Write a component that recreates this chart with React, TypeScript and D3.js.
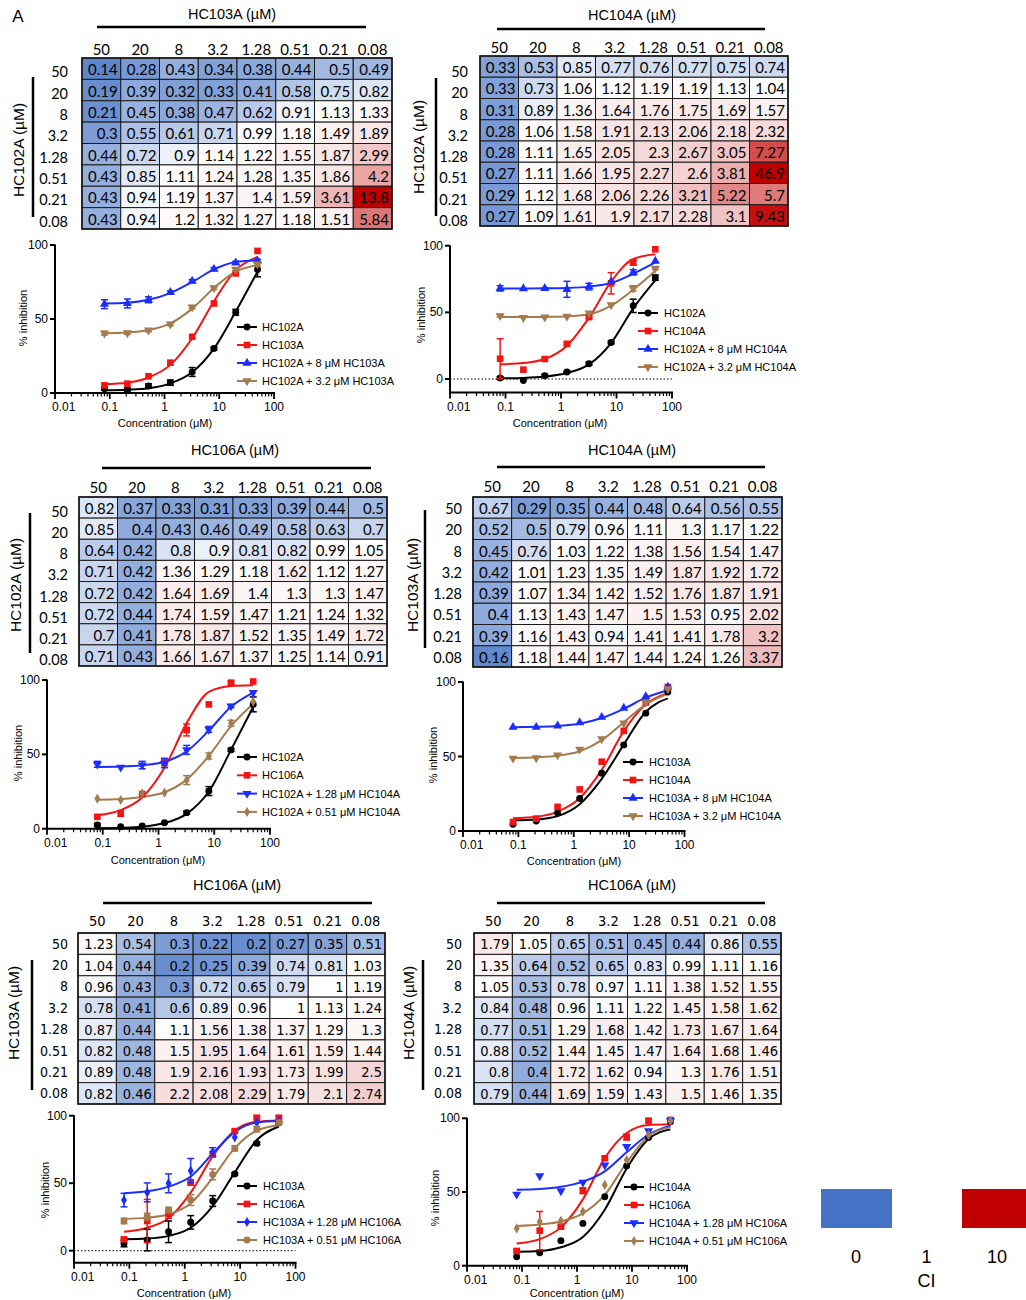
import React from "react";
import * as d3 from "d3";

// concentrations (µM) used for every dose-response curve
const conc = [0.08, 0.21, 0.51, 1.28, 3.2, 8, 20, 50];
// heatmap row / column labels
const doseLabels = ["50", "20", "8", "3.2", "1.28", "0.51", "0.21", "0.08"];
const xTickLabels = [0.01, 0.1, 1, 10, 100];
const yTickLabels = [0, 50, 100];

// combination index heatmaps (rows = y drug, cols = x drug)
const hm1 = [
  [0.14, 0.28, 0.43, 0.34, 0.38, 0.44, 0.5, 0.49],
  [0.19, 0.39, 0.32, 0.33, 0.41, 0.58, 0.75, 0.82],
  [0.21, 0.45, 0.38, 0.47, 0.62, 0.91, 1.13, 1.33],
  [0.3, 0.55, 0.61, 0.71, 0.99, 1.18, 1.49, 1.89],
  [0.44, 0.72, 0.9, 1.14, 1.22, 1.55, 1.87, 2.99],
  [0.43, 0.85, 1.11, 1.24, 1.28, 1.35, 1.86, 4.2],
  [0.43, 0.94, 1.19, 1.37, 1.4, 1.59, 3.61, 13.8],
  [0.43, 0.94, 1.2, 1.32, 1.27, 1.18, 1.51, 5.84],
];
const hm2 = [
  [0.33, 0.53, 0.85, 0.77, 0.76, 0.77, 0.75, 0.74],
  [0.33, 0.73, 1.06, 1.12, 1.19, 1.19, 1.13, 1.04],
  [0.31, 0.89, 1.36, 1.64, 1.76, 1.75, 1.69, 1.57],
  [0.28, 1.06, 1.58, 1.91, 2.13, 2.06, 2.18, 2.32],
  [0.28, 1.11, 1.65, 2.05, 2.3, 2.67, 3.05, 7.27],
  [0.27, 1.11, 1.66, 1.95, 2.27, 2.6, 3.81, 46.9],
  [0.29, 1.12, 1.68, 2.06, 2.26, 3.21, 5.22, 5.7],
  [0.27, 1.09, 1.61, 1.9, 2.17, 2.28, 3.1, 9.43],
];
const hm3 = [
  [0.82, 0.37, 0.33, 0.31, 0.33, 0.39, 0.44, 0.5],
  [0.85, 0.4, 0.43, 0.46, 0.49, 0.58, 0.63, 0.7],
  [0.64, 0.42, 0.8, 0.9, 0.81, 0.82, 0.99, 1.05],
  [0.71, 0.42, 1.36, 1.29, 1.18, 1.62, 1.12, 1.27],
  [0.72, 0.42, 1.64, 1.69, 1.4, 1.3, 1.3, 1.47],
  [0.72, 0.44, 1.74, 1.59, 1.47, 1.21, 1.24, 1.32],
  [0.7, 0.41, 1.78, 1.87, 1.52, 1.35, 1.49, 1.72],
  [0.71, 0.43, 1.66, 1.67, 1.37, 1.25, 1.14, 0.91],
];
const hm4 = [
  [0.67, 0.29, 0.35, 0.44, 0.48, 0.64, 0.56, 0.55],
  [0.52, 0.5, 0.79, 0.96, 1.11, 1.3, 1.17, 1.22],
  [0.45, 0.76, 1.03, 1.22, 1.38, 1.56, 1.54, 1.47],
  [0.42, 1.01, 1.23, 1.35, 1.49, 1.87, 1.92, 1.72],
  [0.39, 1.07, 1.34, 1.42, 1.52, 1.76, 1.87, 1.91],
  [0.4, 1.13, 1.43, 1.47, 1.5, 1.53, 0.95, 2.02],
  [0.39, 1.16, 1.43, 0.94, 1.41, 1.41, 1.78, 3.2],
  [0.16, 1.18, 1.44, 1.47, 1.44, 1.24, 1.26, 3.37],
];
const hm5 = [
  [1.23, 0.54, 0.3, 0.22, 0.2, 0.27, 0.35, 0.51],
  [1.04, 0.44, 0.2, 0.25, 0.39, 0.74, 0.81, 1.03],
  [0.96, 0.43, 0.3, 0.72, 0.65, 0.79, 1, 1.19],
  [0.78, 0.41, 0.6, 0.89, 0.96, 1, 1.13, 1.24],
  [0.87, 0.44, 1.1, 1.56, 1.38, 1.37, 1.29, 1.3],
  [0.82, 0.48, 1.5, 1.95, 1.64, 1.61, 1.59, 1.44],
  [0.89, 0.48, 1.9, 2.16, 1.93, 1.73, 1.99, 2.5],
  [0.82, 0.46, 2.2, 2.08, 2.29, 1.79, 2.1, 2.74],
];
const hm6 = [
  [1.79, 1.05, 0.65, 0.51, 0.45, 0.44, 0.86, 0.55],
  [1.35, 0.64, 0.52, 0.65, 0.83, 0.99, 1.11, 1.16],
  [1.05, 0.53, 0.78, 0.97, 1.11, 1.38, 1.52, 1.55],
  [0.84, 0.48, 0.96, 1.11, 1.22, 1.45, 1.58, 1.62],
  [0.77, 0.51, 1.29, 1.68, 1.42, 1.73, 1.67, 1.64],
  [0.88, 0.52, 1.44, 1.45, 1.47, 1.64, 1.68, 1.46],
  [0.8, 0.4, 1.72, 1.62, 0.94, 1.3, 1.76, 1.51],
  [0.79, 0.44, 1.69, 1.59, 1.43, 1.5, 1.46, 1.35],
];

// % inhibition: points, error bars, fitted curve read at each concentration
const p1Black = [2.9, 2.3, 4.7, 7, 14.2, 30, 54.5, 83.5];
const p1BlackErr = [1, 1, 1.5, 1.8, 3, 1, 2, 5];
const p1BlackFit = [1.8, 2.2, 3.2, 6.5, 14, 30, 55, 82];
const p1Red = [5.2, 6.3, 11.3, 20.5, 38, 60.5, 80.8, 96];
const p1RedErr = [0, 0, 0, 0, 0, 0, 0, 0];
const p1RedFit = [6, 7, 10.5, 19, 37, 62, 83, 92];
const p1Blue = [60, 60.5, 63, 68, 75.6, 83.7, 88, 89.4];
const p1BlueErr = [3, 3, 2, 1, 1, 1, 1, 1];
const p1BlueFit = [60.5, 61, 63, 67.5, 75, 83.5, 88.5, 89.5];
const p1Brown = [40.4, 40.6, 42.4, 46.5, 58, 71, 83.5, 87];
const p1BrownErr = [1.2, 1, 1, 1, 1, 1, 1, 1];
const p1BrownFit = [40.3, 40.8, 42.5, 47, 57, 71, 82, 86.5];

const p2Black = [0.7, -1.2, 2.5, 5.2, 11.5, 27.4, 54.9, 76];
const p2BlackErr = [1, 0, 1, 0.5, 1, 1, 5, 2];
const p2BlackFit = [0.5, 0.8, 1.8, 4.5, 11, 27, 53, 74];
const p2Red = [15.2, 7, 15, 26.4, 46.4, 71.8, 87.3, 97.3];
const p2RedErr = [15, 0, 1, 1, 1, 8, 2, 0];
const p2RedFit = [11, 12, 15, 25, 46, 73, 90, 93.5];
const p2Blue = [68, 67.8, 68, 67.3, 69.3, 73, 80, 88.5];
const p2BlueErr = [2, 0, 0.5, 6, 2.5, 0, 2, 0];
const p2BlueFit = [67.8, 67.9, 68, 68.3, 69.3, 72, 79, 87.5];
const p2Brown = [47.4, 46, 46.4, 46.9, 49.4, 55.6, 68, 83];
const p2BrownErr = [1, 0, 0, 0, 0, 0, 2, 1];
const p2BrownFit = [46.5, 46.5, 46.6, 46.9, 48.5, 55, 67, 81];

const p3Black = [2.5, 1.3, 1.8, 4, 10.8, 25.3, 53, 83.6];
const p3BlackErr = [1, 0, 0, 0.5, 1, 3, 1, 5];
const p3BlackFit = [0.3, 0.6, 1.3, 3.8, 10, 25, 53, 82];
const p3Red = [8, 10.3, 23.3, 44.4, 66.4, 83.6, 98.2, 99];
const p3RedErr = [0, 2, 0, 3, 4, 0, 1, 0];
const p3RedFit = [9, 12.5, 21, 41, 71, 92, 96, 96.5];
const p3Blue = [43.3, 41.3, 42.8, 44, 53, 66.8, 82.5, 91.5];
const p3BlueErr = [2, 0, 2.5, 3, 3, 2, 1, 0];
const p3BlueFit = [41.5, 41.8, 42.7, 45, 52, 66, 82, 91.5];
const p3Brown = [20.2, 19.3, 23.8, 24.2, 32.7, 48.9, 70.9, 85.4];
const p3BrownErr = [0, 0, 0, 0, 3, 2, 2, 0];
const p3BrownFit = [19.5, 20, 21.3, 24.5, 33, 49, 69, 84];

const p4Black = [4.5, 6.7, 12.1, 21.8, 38.7, 57.8, 79.1, 93.3];
const p4BlackErr = [0, 0, 0, 0, 0, 0, 0, 0];
const p4BlackFit = [7, 7.7, 10, 18, 35, 58, 80, 89];
const p4Red = [6, 8.3, 16.2, 27.9, 46.5, 67.2, 86.3, 96.6];
const p4RedErr = [0, 0, 0, 0, 0, 0, 0, 0];
const p4RedFit = [8.5, 9.5, 13, 22, 41, 67, 85, 92.5];
const p4Blue = [69.7, 69.7, 70.6, 72.8, 76.4, 82.5, 90.3, 96.6];
const p4BlueErr = [0, 0, 0, 0, 0, 0, 0, 0];
const p4BlueFit = [69.6, 69.9, 70.5, 72, 75.8, 82, 89.5, 94.5];
const p4Brown = [48.8, 49, 51, 54.8, 61.8, 72.4, 86.3, 95.3];
const p4BrownErr = [0, 0, 0, 0, 0, 0, 0, 0];
const p4BrownFit = [49, 49.5, 50.5, 53.5, 61, 73, 85, 92];

const p5Black = [5.4, 7.9, 14, 21, 36.8, 56.8, 79.5, 94.8];
const p5BlackErr = [2.5, 8, 8, 5, 4, 1, 1, 1];
const p5BlackFit = [8.5, 9, 11, 17, 33, 58, 82, 92];
const p5Red = [8.4, 22, 27, 50.6, 71.4, 88.6, 98.5, 98.5];
const p5RedErr = [1, 16, 3, 2, 2, 1, 1, 1];
const p5RedFit = [14, 17, 24, 43, 70, 89, 95.5, 96.5];
const p5Blue = [37.5, 43.2, 49.9, 59.3, 73.3, 84, 95, 96];
const p5BlueErr = [5, 7, 7, 9, 3, 0, 0, 0];
const p5BlueFit = [42.5, 44, 47.5, 55, 72, 88, 95, 96];
const p5Brown = [22, 25.2, 30.1, 37.5, 56.5, 75.8, 90.1, 95];
const p5BrownErr = [2, 2.5, 2, 4, 4, 2, 2, 0];
const p5BrownFit = [23.5, 24.5, 27, 35, 54, 76, 89, 93];

const p6Black = [6.1, 8.8, 17, 28.7, 46.8, 67.6, 86.9, 97.7];
const p6BlackErr = [0, 0, 0, 0, 0, 0, 0, 0];
const p6BlackFit = [9.5, 10, 12.5, 19.5, 38, 66, 86, 92.5];
const p6Red = [10, 23.8, 26.5, 50.9, 72.9, 87.3, 98.4, 98.9];
const p6RedErr = [1, 13, 1, 2, 1, 2, 1, 0];
const p6RedFit = [15, 18, 26, 45, 73, 90, 95.5, 96];
const p6Blue = [48.4, 60.9, 50.7, 56.6, 68.3, 80.8, 91.4, 98.4];
const p6BlueErr = [0, 0, 0, 0, 0, 0, 0, 0];
const p6BlueFit = [51.5, 52, 53.5, 57, 64, 77, 89, 95];
const p6Brown = [25.3, 29.9, 30.5, 36.7, 54.8, 71.7, 88.7, 98.2];
const p6BrownErr = [0, 0, 0, 0, 0, 0, 0, 0];
const p6BrownFit = [27, 28, 30, 35.5, 48, 70, 88, 94];

const ciLegend = [0, 1, 10];

const ARIAL = "'Liberation Sans', Arial, sans-serif";
const CAL = "Lato, 'Open Sans', sans-serif";
const NARROW = "'Liberation Sans Narrow', 'DejaVu Sans Condensed', Lato, sans-serif";

const BLACK = "#000000";
const RED = "#f51414";
const BLUE = "#1c2dff";
const BROWN = "#a57a4c";

const ciColor = d3
  .scaleLinear<string>()
  .domain([0, 1, 10])
  .range(["#4472C4", "#ffffff", "#C00000"])
  .clamp(true);

function Heatmap({ L, data, title, yTitle }: any) {
  const x = d3.scaleBand<string>().domain(doseLabels).range([L.x0, L.x1]);
  const y = d3.scaleBand<string>().domain(doseLabels).range([L.y0, L.y1]);
  const font = L.narrow ? NARROW : CAL;
  const fs = L.narrow ? 14.5 : 15;
  const bw = x.bandwidth();
  const bh = y.bandwidth();
  return (
    <g>
      <text x={L.titleX} y={L.titleY} textAnchor="middle" dominantBaseline="central" fontFamily={ARIAL} fontSize={14.5}>
        {title}
      </text>
      <line x1={L.lineX0} x2={L.lineX1} y1={L.lineY} y2={L.lineY} stroke="#000" strokeWidth={2.5} />
      {doseLabels.map((c) => (
        <text key={c} x={x(c)! + bw / 2} y={L.headerY} textAnchor="middle" dominantBaseline="central" fontFamily={font} fontSize={fs}>
          {c}
        </text>
      ))}
      {data.map((row: number[], i: number) =>
        row.map((v, j) => {
          const cx = x(doseLabels[j])!;
          const cy = y(doseLabels[i])!;
          return (
            <g key={`${i}-${j}`}>
              <rect x={cx} y={cy} width={bw} height={bh} fill={ciColor(v)} stroke="#1a1a1a" strokeWidth={1} />
              <text x={cx + bw - 3} y={cy + bh / 2 + 0.5} textAnchor="end" dominantBaseline="central" fontFamily={font} fontSize={fs}>
                {String(v)}
              </text>
            </g>
          );
        })
      )}
      <rect x={L.x0} y={L.y0} width={L.x1 - L.x0} height={L.y1 - L.y0} fill="none" stroke="#111" strokeWidth={1.5} />
      {doseLabels.map((r) => (
        <text key={r} x={L.rowLabelX} y={y(r)! + bh / 2 + L.rowDy} textAnchor="end" dominantBaseline="central" fontFamily={font} fontSize={fs - 0.5}>
          {r}
        </text>
      ))}
      <line x1={L.vX} x2={L.vX} y1={L.vY0} y2={L.vY1} stroke="#000" strokeWidth={2.5} />
      <text
        transform={`translate(${L.yTitleX},${L.yTitleY}) rotate(-90)`}
        textAnchor="middle"
        dominantBaseline="central"
        fontFamily={ARIAL}
        fontSize={15.5}
      >
        {yTitle}
      </text>
    </g>
  );
}

function symbolPath(shape: string, size: number) {
  const t =
    shape === "circle"
      ? d3.symbolCircle
      : shape === "square"
      ? d3.symbolSquare
      : shape === "diamond"
      ? d3.symbolDiamond
      : d3.symbolTriangle;
  return d3.symbol().type(t).size(size)() || "";
}

function Marker({ shape, color, x, y }: any) {
  const size = shape === "square" ? 44 : shape === "circle" ? 38 : shape === "diamond" ? 30 : 36;
  const rot = shape === "down" ? 180 : 0;
  return <path d={symbolPath(shape, size)} fill={color} transform={`translate(${x},${y}) rotate(${rot})`} />;
}

function DoseCurve({ L, series }: any) {
  const x = d3.scaleLog().domain([0.01, 100]).range([L.x0, L.x1]);
  const y = d3.scaleLinear().domain([0, 100]).range([L.y0, L.y100]);
  const line = d3
    .line<number>()
    .x((_, i) => x(conc[i]))
    .y((d) => y(d))
    .curve(d3.curveMonotoneX);
  const ticks = x.ticks();
  const isMajor = (t: number) => Math.abs(Math.log10(t) - Math.round(Math.log10(t))) < 1e-6;
  const tickFs = 12;
  return (
    <g>
      {L.zeroLine && (
        <line x1={L.x0} x2={L.x1} y1={y(0)} y2={y(0)} stroke="#000" strokeWidth={1} strokeDasharray="1.5,2" />
      )}
      {/* y axis */}
      <line x1={L.x0} x2={L.x0} y1={L.yBottom} y2={y(100) - 0.5} stroke="#000" strokeWidth={2} />
      {yTickLabels.map((t) => (
        <g key={t}>
          <line x1={L.x0 - 5} x2={L.x0} y1={y(t)} y2={y(t)} stroke="#000" strokeWidth={2} />
          <text x={L.x0 - 7} y={y(t)} textAnchor="end" dominantBaseline="central" fontFamily={ARIAL} fontSize={tickFs}>
            {t}
          </text>
        </g>
      ))}
      {/* x axis */}
      <line x1={L.x0 - 1} x2={L.x1 + 1} y1={L.yBottom} y2={L.yBottom} stroke="#000" strokeWidth={2} />
      {ticks.map((t, i) => (
        <line
          key={i}
          x1={x(t)}
          x2={x(t)}
          y1={L.yBottom}
          y2={L.yBottom + (isMajor(t) ? 6 : 3.5)}
          stroke="#000"
          strokeWidth={isMajor(t) ? 1.8 : 1.2}
        />
      ))}
      {xTickLabels.map((t, i) => (
        <text
          key={t}
          x={i === 0 ? x(t) - 3 : x(t)}
          y={L.yBottom + 14}
          textAnchor={i === 0 ? "start" : "middle"}
          dominantBaseline="central"
          fontFamily={ARIAL}
          fontSize={tickFs}
        >
          {t}
        </text>
      ))}
      <text x={L.xTitle[0]} y={L.xTitle[1]} textAnchor="middle" dominantBaseline="central" fontFamily={ARIAL} fontSize={11}>
        Concentration (μM)
      </text>
      <text
        transform={`translate(${L.yTitle[0]},${L.yTitle[1]}) rotate(-90)`}
        textAnchor="middle"
        dominantBaseline="central"
        fontFamily={ARIAL}
        fontSize={11}
      >
        % inhibition
      </text>
      {/* fitted curves */}
      {series.map((s: any) => (
        <path key={s.name + "fit"} d={line(s.fit) || ""} fill="none" stroke={s.color} strokeWidth={2} />
      ))}
      {/* error bars and points */}
      {series.map((s: any) =>
        s.values.map((v: number, i: number) => {
          const px = x(conc[i]);
          const e = s.err[i];
          return (
            <g key={s.name + i}>
              {e > 0 && (
                <g stroke={s.color} strokeWidth={1.5}>
                  <line x1={px} x2={px} y1={y(v - e)} y2={y(v + e)} />
                  <line x1={px - 3.5} x2={px + 3.5} y1={y(v - e)} y2={y(v - e)} />
                  <line x1={px - 3.5} x2={px + 3.5} y1={y(v + e)} y2={y(v + e)} />
                </g>
              )}
              <Marker shape={s.shape} color={s.color} x={px} y={y(v)} />
            </g>
          );
        })
      )}
      {/* legend */}
      {series.map((s: any, i: number) => {
        const ly = L.legY0 + i * L.legDy;
        return (
          <g key={s.name + "leg"}>
            <line x1={L.legX0} x2={L.legX1} y1={ly} y2={ly} stroke={s.color} strokeWidth={2} />
            <Marker shape={s.shape} color={s.color} x={(L.legX0 + L.legX1) / 2} y={ly} />
            <text x={L.legTX} y={ly} dominantBaseline="central" fontFamily={ARIAL} fontSize={11}>
              {s.name}
            </text>
          </g>
        );
      })}
    </g>
  );
}

const heatLayouts = [
  { x0: 82, x1: 392, y0: 58, y1: 229, headerY: 49, titleX: 232, titleY: 14, lineX0: 97, lineX1: 366, lineY: 27, rowLabelX: 68, rowDy: 3, vX: 33, vY0: 77, vY1: 217, yTitleX: 18, yTitleY: 150 },
  { x0: 480, x1: 788, y0: 56, y1: 226, headerY: 47, titleX: 632, titleY: 15, lineX0: 497, lineX1: 765, lineY: 29, rowLabelX: 468, rowDy: 5, vX: 436, vY0: 78, vY1: 216, yTitleX: 418, yTitleY: 147 },
  { x0: 79, x1: 387, y0: 497, y1: 666, headerY: 487, titleX: 235, titleY: 450, lineX0: 102, lineX1: 371, lineY: 468, rowLabelX: 68, rowDy: 4, vX: 30, vY0: 513, vY1: 653, yTitleX: 15, yTitleY: 585 },
  { x0: 473, x1: 782, y0: 497, y1: 667, headerY: 486, titleX: 632, titleY: 450, lineX0: 497, lineX1: 765, lineY: 467, rowLabelX: 462, rowDy: 1, vX: 425, vY0: 510, vY1: 648, yTitleX: 412, yTitleY: 585 },
  { x0: 78, x1: 385, y0: 933, y1: 1104, headerY: 921, titleX: 237, titleY: 885, lineX0: 103, lineX1: 372, lineY: 903, rowLabelX: 68, rowDy: 0, vX: 32, vY0: 960, vY1: 1090, yTitleX: 13, yTitleY: 1013, narrow: true },
  { x0: 474, x1: 781, y0: 933, y1: 1104, headerY: 921, titleX: 632, titleY: 885, lineX0: 497, lineX1: 765, lineY: 903, rowLabelX: 462, rowDy: 0, vX: 423, vY0: 960, vY1: 1090, yTitleX: 408, yTitleY: 1013, narrow: true },
];

const curveLayouts = [
  { x0: 55, x1: 274, y100: 245, y0: 393, yBottom: 393, zeroLine: false, xTitle: [165, 423], yTitle: [23, 318], legX0: 237, legX1: 257, legTX: 262, legY0: 327, legDy: 18 },
  { x0: 450, x1: 672, y100: 245.7, y0: 379, yBottom: 392.5, zeroLine: true, xTitle: [560, 423], yTitle: [421, 315], legX0: 638, legX1: 658, legTX: 664, legY0: 313, legDy: 18 },
  { x0: 47, x1: 270, y100: 680, y0: 828.7, yBottom: 828.7, zeroLine: false, xTitle: [158, 860], yTitle: [18, 753], legX0: 237, legX1: 257, legTX: 262, legY0: 757, legDy: 18.3 },
  { x0: 463, x1: 684.5, y100: 682, y0: 831, yBottom: 831, zeroLine: false, xTitle: [574, 861], yTitle: [433, 755], legX0: 623, legX1: 643, legTX: 649, legY0: 762, legDy: 18 },
  { x0: 74, x1: 295.5, y100: 1115.7, y0: 1250.7, yBottom: 1262.7, zeroLine: true, xTitle: [184, 1293], yTitle: [45, 1190], legX0: 237, legX1: 257, legTX: 263, legY0: 1186, legDy: 18 },
  { x0: 467, x1: 687, y100: 1118.3, y0: 1265.7, yBottom: 1265.7, zeroLine: false, xTitle: [577, 1293], yTitle: [435, 1198], legX0: 624, legX1: 644, legTX: 649, legY0: 1187, legDy: 18 },
];

const mk = (name: string, color: string, shape: string, values: number[], err: number[], fit: number[]) => ({
  name, color, shape, values, err, fit,
});

const panels = [
  {
    heat: hm1, title: "HC103A (µM)", yTitle: "HC102A (µM)",
    series: [
      mk("HC102A", BLACK, "circle", p1Black, p1BlackErr, p1BlackFit),
      mk("HC103A", RED, "square", p1Red, p1RedErr, p1RedFit),
      mk("HC102A + 8 μM HC103A", BLUE, "up", p1Blue, p1BlueErr, p1BlueFit),
      mk("HC102A + 3.2 μM HC103A", BROWN, "down", p1Brown, p1BrownErr, p1BrownFit),
    ],
  },
  {
    heat: hm2, title: "HC104A (µM)", yTitle: "HC102A (µM)",
    series: [
      mk("HC102A", BLACK, "circle", p2Black, p2BlackErr, p2BlackFit),
      mk("HC104A", RED, "square", p2Red, p2RedErr, p2RedFit),
      mk("HC102A + 8 μM HC104A", BLUE, "up", p2Blue, p2BlueErr, p2BlueFit),
      mk("HC102A + 3.2 μM HC104A", BROWN, "down", p2Brown, p2BrownErr, p2BrownFit),
    ],
  },
  {
    heat: hm3, title: "HC106A (µM)", yTitle: "HC102A (µM)",
    series: [
      mk("HC102A", BLACK, "circle", p3Black, p3BlackErr, p3BlackFit),
      mk("HC106A", RED, "square", p3Red, p3RedErr, p3RedFit),
      mk("HC102A + 1.28 μM HC104A", BLUE, "down", p3Blue, p3BlueErr, p3BlueFit),
      mk("HC102A + 0.51 μM HC104A", BROWN, "diamond", p3Brown, p3BrownErr, p3BrownFit),
    ],
  },
  {
    heat: hm4, title: "HC104A (µM)", yTitle: "HC103A (µM)",
    series: [
      mk("HC103A", BLACK, "circle", p4Black, p4BlackErr, p4BlackFit),
      mk("HC104A", RED, "square", p4Red, p4RedErr, p4RedFit),
      mk("HC103A + 8 μM HC104A", BLUE, "up", p4Blue, p4BlueErr, p4BlueFit),
      mk("HC103A + 3.2 μM HC104A", BROWN, "down", p4Brown, p4BrownErr, p4BrownFit),
    ],
  },
  {
    heat: hm5, title: "HC106A (µM)", yTitle: "HC103A (µM)",
    series: [
      mk("HC103A", BLACK, "circle", p5Black, p5BlackErr, p5BlackFit),
      mk("HC106A", RED, "square", p5Red, p5RedErr, p5RedFit),
      mk("HC103A + 1.28 μM HC106A", BLUE, "diamond", p5Blue, p5BlueErr, p5BlueFit),
      mk("HC103A + 0.51 μM HC106A", BROWN, "circle", p5Brown, p5BrownErr, p5BrownFit),
    ],
  },
  {
    heat: hm6, title: "HC106A (µM)", yTitle: "HC104A (µM)",
    series: [
      mk("HC104A", BLACK, "circle", p6Black, p6BlackErr, p6BlackFit),
      mk("HC106A", RED, "square", p6Red, p6RedErr, p6RedFit),
      mk("HC104A + 1.28 μM HC106A", BLUE, "down", p6Blue, p6BlueErr, p6BlueFit),
      mk("HC104A + 0.51 μM HC106A", BROWN, "diamond", p6Brown, p6BrownErr, p6BrownFit),
    ],
  },
];

function CiLegend() {
  const x = d3.scalePoint<number>().domain(ciLegend).range([856, 997]);
  return (
    <g>
      <rect x={821} y={1189} width={71} height={39} fill={ciColor(0)} />
      <rect x={962} y={1189} width={70} height={39} fill={ciColor(10)} />
      {ciLegend.map((v) => (
        <text key={v} x={x(v)} y={1257} textAnchor="middle" dominantBaseline="central" fontFamily={ARIAL} fontSize={18}>
          {v}
        </text>
      ))}
      <text x={x(1)} y={1281} textAnchor="middle" dominantBaseline="central" fontFamily={ARIAL} fontSize={18}>
        CI
      </text>
    </g>
  );
}

export default function App() {
  return (
    <div style={{ position: "absolute", left: 0, top: 0, background: "#fff" }}>
      <svg width={1026} height={1300} viewBox="0 0 1026 1300">
        <rect width={1026} height={1300} fill="#fff" />
        <text x={18} y={16} textAnchor="middle" dominantBaseline="central" fontFamily={ARIAL} fontSize={17}>
          A
        </text>
        {panels.map((p, i) => (
          <g key={i}>
            <Heatmap L={heatLayouts[i]} data={p.heat} title={p.title} yTitle={p.yTitle} />
            <DoseCurve L={curveLayouts[i]} series={p.series} />
          </g>
        ))}
        <CiLegend />
      </svg>
    </div>
  );
}
